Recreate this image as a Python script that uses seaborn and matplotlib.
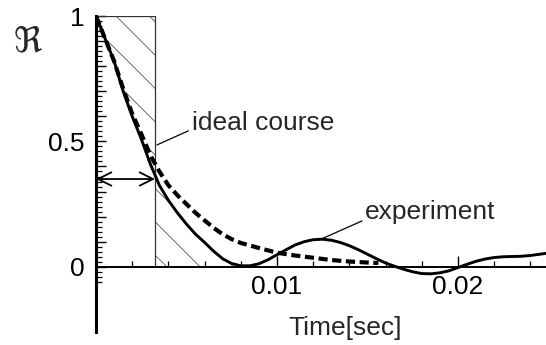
import numpy as np
import matplotlib
matplotlib.use("Agg")
import matplotlib.pyplot as plt
from matplotlib.ticker import FixedLocator, FixedFormatter
import seaborn as sns

# --- data -----------------------------------------------------------------
# measured response (solid curve)
t_exp = [0.0, 0.0005, 0.001, 0.0015, 0.002, 0.0025, 0.003, 0.0035, 0.004,
         0.0045, 0.005, 0.0055, 0.006, 0.0065, 0.007, 0.0075, 0.008, 0.0085,
         0.009, 0.0095, 0.010, 0.0105, 0.011, 0.0115, 0.012, 0.0125, 0.013,
         0.0135, 0.014, 0.0145, 0.015, 0.0155, 0.016, 0.0165, 0.017, 0.0175,
         0.018, 0.0185, 0.019, 0.0195, 0.020, 0.0205, 0.021, 0.0215, 0.022,
         0.0225, 0.023, 0.0235, 0.024, 0.0245, 0.025]
r_exp = [1.0, 0.91, 0.82, 0.70, 0.60, 0.51, 0.41, 0.325, 0.265,
         0.215, 0.17, 0.13, 0.097, 0.062, 0.032, 0.013, 0.004, 0.004,
         0.012, 0.028, 0.048, 0.068, 0.087, 0.100, 0.108, 0.110, 0.106,
         0.097, 0.084, 0.068, 0.050, 0.032, 0.015, 0.002, -0.010, -0.020,
         -0.027, -0.028, -0.024, -0.016, -0.003, 0.010, 0.022, 0.031, 0.037,
         0.040, 0.041, 0.042, 0.045, 0.050, 0.055]

# ideal decay (dashed curve)
t_ideal = [0.0, 0.0005, 0.001, 0.0015, 0.002, 0.0025, 0.003, 0.0035, 0.004,
           0.0045, 0.005, 0.0055, 0.006, 0.0065, 0.007, 0.0075, 0.008, 0.009,
           0.010, 0.011, 0.012, 0.013, 0.014, 0.015, 0.0156]
r_ideal = [1.0, 0.91, 0.82, 0.71, 0.61, 0.53, 0.445, 0.38, 0.325,
           0.285, 0.25, 0.215, 0.185, 0.155, 0.13, 0.11, 0.095, 0.075,
           0.056, 0.045, 0.036, 0.027, 0.021, 0.017, 0.015]

tau = 0.00326              # width of the equivalent rectangle
r_at_tau = 0.35            # level of the double arrow

x_major = [0.01, 0.02]
x_major_labels = ["0.01", "0.02"]
y_label_ticks = [0.0, 0.5, 1.0]
y_label_text = ["0", "0.5", "1"]

# --- style ----------------------------------------------------------------
sns.set_theme(style="white")
plt.rcParams["font.family"] = ["Liberation Sans", "DejaVu Sans"]
plt.rcParams["hatch.linewidth"] = 0.6
plt.rcParams["hatch.color"] = "#555555"

FS = 19

fig = plt.figure(figsize=(5.46, 3.45), dpi=100)
ax = fig.add_axes([96 / 546, 13 / 345, 450 / 546, 316 / 345])
ax.set_xlim(0, 450 / 181 * 0.01)
ax.set_ylim(-0.26, 1.0)

t_e = np.array(t_exp)
r_e = np.array(r_exp)

# hatched area between the rectangle and the measured curve
r_tau = np.interp(tau, t_e, r_e)
left = t_e < tau
xa = np.r_[t_e[left], tau]
ya = np.r_[r_e[left], r_tau]
ax.fill_between(xa, ya, 1.0, facecolor="none", edgecolor="#555555",
                hatch="\\", linewidth=0)
right = (t_e > tau) & (t_e <= 0.0082)
xb = np.r_[tau, t_e[right]]
yb = np.r_[r_tau, r_e[right]]
ax.fill_between(xb, 0, yb, facecolor="none", edgecolor="#555555",
                hatch="\\", linewidth=0)

# rectangle outline
ax.plot([0, tau, tau], [1.0, 1.0, 0.0], color="#333333", lw=0.9)

# curves
sns.lineplot(x=t_ideal, y=r_ideal, ax=ax, color="black", lw=3.0,
             linestyle=(0, (2.2, 1.1)), estimator=None, sort=False)
sns.lineplot(x=t_exp, y=r_exp, ax=ax, color="black", lw=2.1,
             estimator=None, sort=False)

# double arrow marking tau
ax.annotate("", xy=(tau, r_at_tau), xytext=(0, r_at_tau),
            arrowprops=dict(arrowstyle="<->", color="black", lw=1.3,
                            mutation_scale=24, shrinkA=0, shrinkB=0))

# labels with leader lines
ax.plot([0.00337, 0.00510], [0.486, 0.542], color="black", lw=0.9)
ax.text(0.0053, 0.574, "ideal course", fontsize=FS, va="center", ha="left")
ax.plot([0.01249, 0.01470], [0.112, 0.183], color="black", lw=0.9)
ax.text(0.01486, 0.219, "experiment", fontsize=FS, va="center", ha="left")

# axes
for s in ["top", "right"]:
    ax.spines[s].set_visible(False)
ax.spines["left"].set_linewidth(2.2)
ax.spines["left"].set_color("black")
ax.spines["bottom"].set_position(("data", 0))
ax.spines["bottom"].set_linewidth(1.4)
ax.spines["bottom"].set_color("black")

ax.xaxis.set_major_locator(FixedLocator(x_major))
ax.xaxis.set_major_formatter(FixedFormatter(x_major_labels))
ax.xaxis.set_minor_locator(FixedLocator(np.round(np.arange(0.002, 0.025, 0.002), 4)))
ax.tick_params(axis="x", which="major", direction="in", length=8, width=1.0,
               labelsize=FS, pad=6, colors="black", bottom=True)
ax.tick_params(axis="x", which="minor", direction="in", length=4, width=0.9,
               bottom=True, colors="black")

y_major = list(np.round(np.arange(0.0, 1.01, 0.1), 2))
y_text = [y_label_text[y_label_ticks.index(v)] if v in y_label_ticks else ""
          for v in y_major]
ax.yaxis.set_major_locator(FixedLocator(y_major))
ax.yaxis.set_major_formatter(FixedFormatter(y_text))
ax.yaxis.set_minor_locator(FixedLocator(np.round(np.arange(-0.06, 1.0, 0.02), 3)))
ax.tick_params(axis="y", which="major", direction="in", length=7, width=1.0,
               labelsize=FS, pad=8, colors="black", left=True)
ax.tick_params(axis="y", which="minor", direction="in", length=4, width=0.9,
               left=True, colors="black")

ax.set_xlabel("")
ax.set_ylabel("")
fig.text(28 / 546, 1 - 43 / 345, r"$\Re$", fontsize=25,
         ha="center", va="center")
fig.text(345 / 546, 1 - 328 / 345, "Time[sec]", fontsize=FS,
         ha="center", va="center")

fig.savefig("out.png", dpi=100)
